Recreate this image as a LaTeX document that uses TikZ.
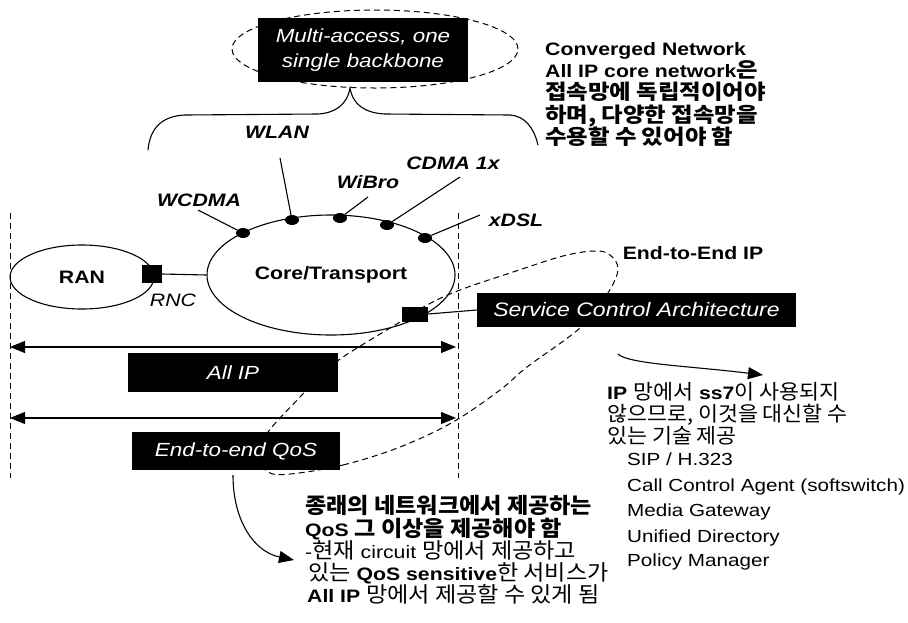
\documentclass[tikz,border=0pt]{standalone}
\usepackage{fontspec}
\setmainfont[FakeStretch=1.18]{Liberation Sans}
\newfontfamily\kr[Scale=1.15,FakeStretch=1.05]{Noto Sans CJK KR}
\newfontfamily\krT[Scale=1.15,FakeStretch=1.13]{Noto Sans CJK KR}
\newfontfamily\krM[Scale=1.2,FakeStretch=1.07]{Noto Sans CJK KR}
\newcommand\K[1]{{\kr #1}}
\newcommand\KT[1]{{\krT #1}}
\newcommand\KM[1]{{\krM #1}}
\usetikzlibrary{arrows.meta,shapes.geometric}
\tikzset{
 solidln/.style={line width=1.1pt},
 dashln/.style={line width=1pt, dash pattern=on 6pt off 4pt},
 bbox/.style={fill=black, text=white, inner sep=0pt, font=\fontsize{19}{25}\selectfont\itshape, align=center},
 lab/.style={font=\fontsize{18}{22}\selectfont\bfseries\itshape, inner sep=0pt},
 dotn/.style={ellipse, fill=black, minimum width=14pt, minimum height=10pt, inner sep=0pt},
 sq/.style={rectangle, fill=black, inner sep=0pt},
 txt/.style={anchor=base west, inner sep=0pt, font=\fontsize{18}{22}\selectfont},
 ltxt/.style={anchor=base west, inner sep=0pt, font=\fontsize{17.5}{22}\selectfont},
 arrowto/.style={-{Triangle[length=15pt,width=12pt]}},
 dbl/.style={{Triangle[length=15pt,width=12pt]}-{Triangle[length=15pt,width=12pt]}},
}
\begin{document}
\begin{tikzpicture}[x=1pt,y=-1pt]
\useasboundingbox (0,0) rectangle (908,622);
% vertical dashed borders
\coordinate (vl1) at (10,213); \coordinate (vl2) at (10,478);
\coordinate (vr1) at (458,213); \coordinate (vr2) at (458,478);
\draw[dashln] (vl1) -- (vl2);
\draw[dashln] (vr1) -- (vr2);
% top dashed ellipse and box
\node[ellipse, draw, dashln, minimum width=286pt, minimum height=78pt, inner sep=0pt] (ell) at (375,49) {};
\node[bbox, minimum width=210pt, minimum height=64pt] (multi) at (363,50) {Multi-access, one\\single backbone};
% brace
\coordinate (brL) at (148,150); \coordinate (brT) at (350,88); \coordinate (brR) at (538,145);
\draw[solidln] (brL) .. controls (150,128) and (162,116) .. (185,115) -- (318,114)
  .. controls (335,113) and (347,105) .. (brT)
  .. controls (353,105) and (365,113) .. (385,114) -- (510,115)
  .. controls (525,116) and (534,128) .. (brR);
% end-to-end IP dashed loop
\draw[dashln] plot[smooth cycle, tension=0.6] coordinates {
 (290,474) (343,465) (400,447) (453,422) (500,390) (527,367) (580,328) (606,296)
 (618,270) (610,255) (595,251) (563,256) (513,272) (460,290) (427,305) (400,322)
 (343,357) (318,378) (300,397) (268,432) (258,455) (268,472)};
% core and RAN
\node[ellipse, draw, solidln, minimum width=248pt, minimum height=120pt, inner sep=0pt,
  font=\fontsize{18}{22}\selectfont\bfseries] (core) at (331,275) {Core/Transport};
\node[ellipse, draw, solidln, minimum width=144pt, minimum height=64pt, inner sep=0pt,
  font=\fontsize{18}{22}\selectfont\bfseries] (ran) at (82,277) {RAN};
% squares
\node[sq, minimum width=20pt, minimum height=18pt] (rnc) at (152,274) {};
\node[sq, minimum width=26pt, minimum height=15pt] (sq2) at (415,314) {};
\draw[solidln] (rnc.east) -- (core.west);
\node[font=\fontsize{18}{22}\selectfont\itshape, inner sep=0pt] (rnclab) at (173,300) {RNC};
% access dots
\node[dotn] (d1) at (243,233) {};
\node[dotn] (d2) at (292,220) {};
\node[dotn] (d3) at (340,218) {};
\node[dotn] (d4) at (387,225) {};
\node[dotn] (d5) at (425,238) {};
\node[lab] (wcdma) at (199,200) {WCDMA};
\node[lab] (wlan) at (277,132) {WLAN};
\node[lab] (wibro) at (368,182) {WiBro};
\node[lab] (cdma) at (453,163) {CDMA 1x};
\node[lab] (xdsl) at (516,220) {xDSL};
\coordinate (c1) at (198,210); \coordinate (c2) at (280,158); \coordinate (c3) at (368,197);
\coordinate (c4) at (460,177); \coordinate (c5) at (480,215);
\draw[solidln] (c1) -- (d1);
\draw[solidln] (c2) -- (d2);
\draw[solidln] (c3) -- (d3);
\draw[solidln] (c4) -- (d4);
\draw[solidln] (c5) -- (d5);
% service control architecture
\node[bbox, minimum width=319pt, minimum height=34pt, font=\fontsize{19.5}{24}\selectfont\itshape] (sca) at (636.5,310) {\raisebox{-6pt}{Service Control Architecture}};
\draw[solidln] (sq2.east) -- (sca.west);
% double arrows and boxes
\coordinate (a1l) at (10,347); \coordinate (a1r) at (456,347);
\coordinate (a2l) at (10,418); \coordinate (a2r) at (456,418);
\draw[solidln, dbl] (a1l) -- (a1r);
\draw[solidln, dbl] (a2l) -- (a2r);
\node[bbox, minimum width=210pt, minimum height=39pt] (allip) at (233,372.5) {All IP};
\node[bbox, minimum width=208pt, minimum height=38pt] (qos) at (236,451) {End-to-end QoS};
\node[font=\fontsize{18}{22}\selectfont\bfseries, inner sep=0pt] (e2e) at (693,253) {End-to-End IP};
% curved arrows
\coordinate (s1) at (618,354); \coordinate (t1) at (763,375);
\draw[solidln, arrowto] (s1) .. controls (628,364) and (690,366) .. (t1);
\coordinate (s2) at (233,475); \coordinate (t2) at (294,560);
\draw[solidln, arrowto] (s2) .. controls (233,522) and (255,552) .. (t2);
% top-right text
\node[txt, font=\fontsize{18}{22}\selectfont\bfseries] (tr1) at (545,55) {Converged Network};
\node[txt, font=\fontsize{18}{22}\selectfont\bfseries] (tr2) at (545,77) {All IP core network\KT{은}};
\node[txt, font=\fontsize{18}{22}\selectfont\bfseries] (tr3) at (545,99.5) {\KT{접속망에 독립적이어야}};
\node[txt, font=\fontsize{18}{22}\selectfont\bfseries] (tr4) at (545,122) {\KT{하며, 다양한 접속망을}};
\node[txt, font=\fontsize{18}{22}\selectfont\bfseries] (tr5) at (545,144.5) {\KT{수용할 수 있어야 함}};
% bottom-right text
\node[txt] (br1) at (607,399) {\textbf{IP} \K{망에서} \textbf{ss7}\K{이 사용되지}};
\node[txt] (br2) at (607,421) {\K{않으므로, 이것을 대신할 수}};
\node[txt] (br3) at (607,443) {\K{있는 기술 제공}};
\node[ltxt] (br4) at (627,465) {SIP / H.323};
\node[ltxt] (br5) at (627,491) {Call Control Agent (softswitch)};
\node[ltxt] (br6) at (627,516) {Media Gateway};
\node[ltxt] (br7) at (627,542) {Unified Directory};
\node[ltxt] (br8) at (627,566) {Policy Manager};
% bottom-middle text
\node[txt, font=\fontsize{18}{22}\selectfont\bfseries] (bm1) at (305,513) {\KM{종래의 네트워크에서 제공하는}};
\node[txt] (bm2) at (305,536) {\textbf{QoS} \textbf{\KM{그 이상을 제공해야 함}}};
\node[txt] (bm3) at (305,558) {-\KM{현재} circuit \KM{망에서 제공하고}};
\node[txt] (bm4) at (308,580) {\KM{있는} \textbf{QoS sensitive}\KM{한 서비스가}};
\node[txt] (bm5) at (307,602) {\textbf{All IP} \KM{망에서 제공할 수 있게 됨}};
\end{tikzpicture}
\end{document}
